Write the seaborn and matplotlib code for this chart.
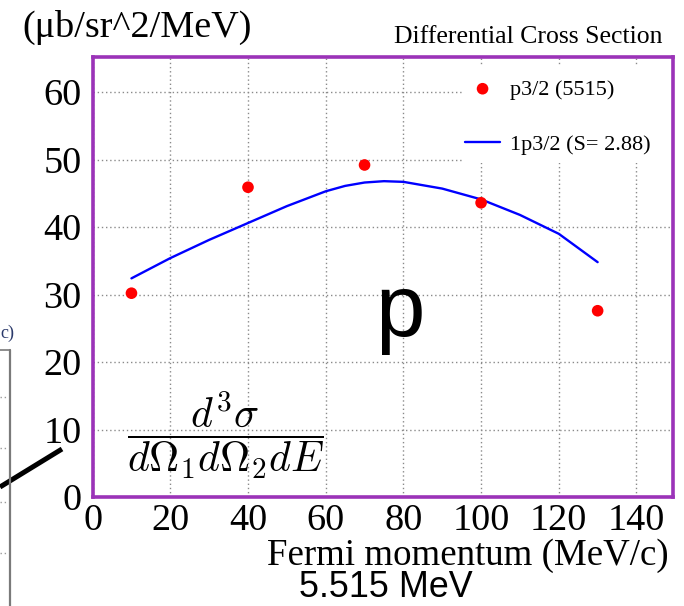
import matplotlib
matplotlib.use("Agg")
import matplotlib.pyplot as plt
from matplotlib.lines import Line2D
from matplotlib.patches import Rectangle
from matplotlib.ticker import MultipleLocator
import seaborn as sns

# Measured cross sections (p3/2 state, 5.515 MeV)
momentum_data = [10, 40, 70, 100, 130]
xsec_data = [30.2, 45.9, 49.2, 43.6, 27.6]

# Calculated 1p3/2 curve (spectroscopic factor S = 2.88)
momentum_calc = [10, 20, 30, 40, 50, 60, 65, 70, 75, 80, 90, 100, 110, 120, 130]
xsec_calc = [32.4, 35.4, 38.1, 40.6, 43.1, 45.3, 46.1, 46.6, 46.8, 46.7, 45.7, 44.1, 41.8, 39.0, 34.8]

x_ticks = [0, 20, 40, 60, 80, 100, 120, 140]
y_ticks = [0, 10, 20, 30, 40, 50, 60]

label_data = "p3/2 (5515)"
label_calc = "1p3/2 (S= 2.88)"

sns.set_style("white")
plt.rcParams["font.family"] = ["Liberation Serif", "DejaVu Serif"]
plt.rcParams["mathtext.fontset"] = "cm"
plt.rcParams["text.color"] = "black"
plt.rcParams["xtick.labelcolor"] = "black"
plt.rcParams["ytick.labelcolor"] = "black"

W, H = 684, 606


def fx(px):
    return px / W


def fy(py):
    return 1 - py / H


fig = plt.figure(figsize=(W / 100, H / 100), dpi=100)
ax = fig.add_axes([fx(92.6), fy(497), (673 - 92.6) / W, (497 - 57) / H])

frame_color = "#9b33b8"
for s in ax.spines.values():
    s.set_color(frame_color)
    s.set_linewidth(2.6)
    s.set_zorder(5)

ax.set_xlim(0, 149.4)
ax.set_ylim(0, 65.2)
ax.set_xticks(x_ticks)
ax.set_yticks(y_ticks)
ax.xaxis.set_minor_locator(MultipleLocator(4))
ax.yaxis.set_minor_locator(MultipleLocator(2))
ax.tick_params(axis="both", which="major", direction="in", length=9, width=1.2,
               color="#555555", labelsize=27.5, labelcolor="black")
ax.tick_params(axis="both", which="minor", direction="in", length=4.5, width=1.0,
               color="#777777")
ax.tick_params(axis="y", which="major", pad=8)
ax.tick_params(axis="x", which="major", pad=5)

ax.grid(True, which="major", color="#8a8a8a", linestyle=(0, (1, 2)), linewidth=1.0)
ax.set_axisbelow(True)

# white legend area hides the grid underneath
ax.add_patch(Rectangle(((462 - 92.6) / 580.4, (497 - 163) / 440),
                       (673 - 462) / 580.4, (163 - 65) / 440,
                       transform=ax.transAxes, facecolor="white",
                       edgecolor="none", zorder=1))

sns.lineplot(x=momentum_calc, y=xsec_calc, color="#0000ff", linewidth=1.7,
             label=label_calc, ax=ax, zorder=3)
sns.scatterplot(x=momentum_data, y=xsec_data, color="#ff0000", s=70,
                edgecolor="none", label=label_data, ax=ax, zorder=4)

handles, labels = ax.get_legend_handles_labels()
order = [labels.index(label_data), labels.index(label_calc)]
ax.legend([handles[i] for i in order], [labels[i] for i in order],
          loc="upper left", bbox_to_anchor=((465 - 92.6) / 580.4, (497 - 79) / 440),
          frameon=False, fontsize=16, borderpad=0, borderaxespad=0,
          handlelength=1.58, handletextpad=0.45, labelspacing=1.55)

ax.set_xlabel("")
ax.set_ylabel("")

# titles and annotations
fig.text(fx(22), fy(27), "(\u03bcb/sr^2/MeV)", fontsize=27.5, ha="left", va="center")
fig.text(fx(662), fy(43), "Differential Cross Section", fontsize=18.5,
         ha="right", va="baseline")
fig.text(fx(669), fy(565), "Fermi momentum (MeV/c)", fontsize=26.6,
         ha="right", va="baseline")
fig.text(fx(299), fy(597), "5.515 MeV", fontsize=25.8, ha="left", va="baseline",
         family=["Liberation Sans", "DejaVu Sans"])
fig.text(fx(400), fy(336), "p", fontsize=64, ha="center", va="baseline",
         family=["Liberation Sans", "DejaVu Sans"])
fig.text(fx(226), fy(435), r"$\dfrac{d^3\sigma}{d\Omega_1 d\Omega_2 dE}$",
         fontsize=30, ha="center", va="center")

# pointer line
fig.add_artist(Line2D([fx(0), fx(62)], [fy(487), fy(449)], color="black",
                      linewidth=3.6, solid_capstyle="butt"))

# edge of the neighbouring panel
fig.add_artist(Line2D([fx(9.5), fx(9.5)], [fy(350), fy(606)], color="#7a7a7a",
                      linewidth=1.6))
fig.add_artist(Line2D([fx(0), fx(9.5)], [fy(350), fy(350)], color="#7a7a7a",
                      linewidth=1.2))
for yy in [397, 448, 502, 553]:
    fig.add_artist(Line2D([fx(0), fx(8)], [fy(yy), fy(yy)], color="#9a9a9a",
                          linewidth=1.0, linestyle=(0, (1, 2))))
fig.text(fx(0.5), fy(333), "c)", fontsize=13, color="#2b3a6b", ha="left",
         va="center")

fig.savefig("out.png", dpi=100)
